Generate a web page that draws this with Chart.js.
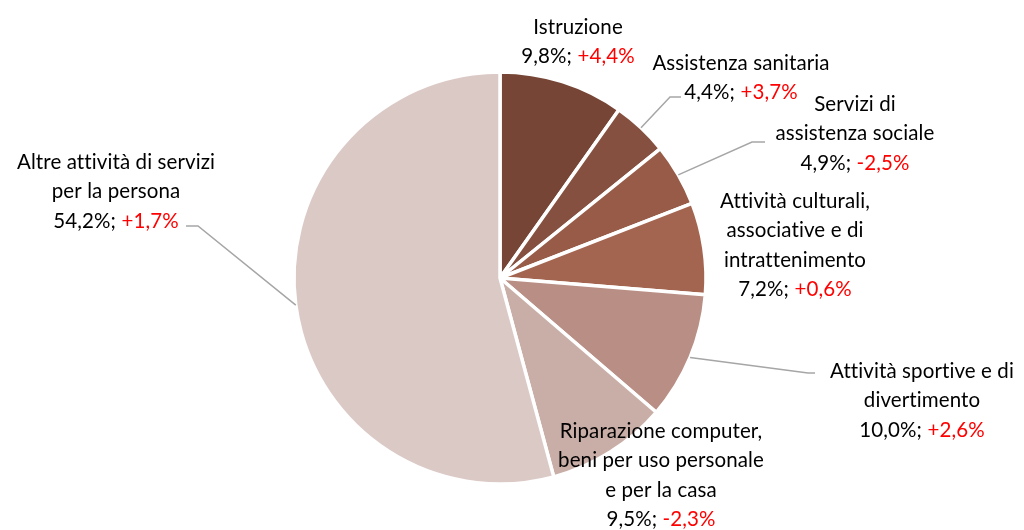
<!DOCTYPE html>
<html>
<head>
<meta charset="utf-8">
<script src="https://cdn.jsdelivr.net/npm/chart.js@4.4.0/dist/chart.umd.min.js"></script>
<style>
html,body{margin:0;padding:0;background:#fff;}
#wrap{width:1024px;height:530px;position:relative;}
</style>
</head>
<body>
<div id="wrap"><canvas id="c" width="1024" height="530"></canvas></div>
<script>
const categories = [
  ["Istruzione"],
  ["Assistenza sanitaria"],
  ["Servizi di", "assistenza sociale"],
  ["Attività culturali,", "associative e di", "intrattenimento"],
  ["Attività sportive e di", "divertimento"],
  ["Riparazione computer,", "beni per uso personale", "e per la casa"],
  ["Altre attività di servizi", "per la persona"]
];
const shares = [9.8, 4.4, 4.9, 7.2, 10.0, 9.5, 54.2];
const changes = [4.4, 3.7, -2.5, 0.6, 2.6, -2.3, 1.7];
const colors = ["#764535", "#865040", "#975b48", "#a46550", "#b98e84", "#c9aea7", "#dbc9c6"];

// label layout: text centre x, first line middle y, optional leader elbow
const labelLayout = [
  {x: 578, y: 27},
  {x: 741, y: 63, elbow: [670, 97], end: [681, 97]},
  {x: 855, y: 104, elbow: [752, 142], end: [765, 142]},
  {x: 795, y: 201},
  {x: 922, y: 371, elbow: [808, 373], end: [815, 373]},
  {x: 661, y: 431},
  {x: 116, y: 162, elbow: [198, 226], end: [186, 226]}
];

const FONT = '20.5px Lato, "Open Sans", sans-serif';
const LH = 29.5;

function fmt(v){ return v.toFixed(1).replace('.', ','); }
function fmtChange(v){ return (v >= 0 ? '+' : '-') + fmt(Math.abs(v)) + '%'; }

const labelPlugin = {
  id: 'labels',
  afterDraw(chart){
    const ctx = chart.ctx;
    const meta = chart.getDatasetMeta(0);
    ctx.save();
    meta.data.forEach((arc, i) => {
      const L = labelLayout[i];
      if (L.elbow) {
        const mid = (arc.startAngle + arc.endAngle) / 2;
        const px = arc.x + Math.cos(mid) * arc.outerRadius;
        const py = arc.y + Math.sin(mid) * arc.outerRadius;
        ctx.beginPath();
        ctx.strokeStyle = '#a6a6a6';
        ctx.lineWidth = 1.5;
        ctx.moveTo(px, py);
        ctx.lineTo(L.elbow[0], L.elbow[1]);
        ctx.lineTo(L.end[0], L.end[1]);
        ctx.stroke();
      }
      ctx.font = FONT;
      try { ctx.letterSpacing = '0.1px'; } catch(e) {}
      ctx.textBaseline = 'middle';
      ctx.textAlign = 'left';
      const lines = categories[i];
      lines.forEach((t, k) => {
        const w = ctx.measureText(t).width;
        ctx.fillStyle = '#000';
        ctx.fillText(t, L.x - w / 2, L.y + k * LH);
      });
      const a = fmt(shares[i]) + '%; ';
      const b = fmtChange(changes[i]);
      const wa = ctx.measureText(a).width, wb = ctx.measureText(b).width;
      const x0 = L.x - (wa + wb) / 2;
      const yy = L.y + lines.length * LH;
      ctx.fillStyle = '#000';
      ctx.fillText(a, x0, yy);
      ctx.fillStyle = '#ff0000';
      ctx.fillText(b, x0 + wa, yy);
    });
    ctx.restore();
  }
};

new Chart(document.getElementById('c'), {
  type: 'pie',
  data: {
    labels: categories.map(l => l.join(' ')),
    datasets: [{
      data: shares,
      backgroundColor: colors,
      borderColor: '#ffffff',
      borderWidth: 3.5
    }]
  },
  options: {
    responsive: false,
    animation: false,
    radius: 206,
    layout: {padding: {top: 71, bottom: 45, left: 0, right: 24}},
    plugins: {legend: {display: false}, tooltip: {enabled: false}}
  },
  plugins: [labelPlugin]
});
</script>
</body>
</html>
